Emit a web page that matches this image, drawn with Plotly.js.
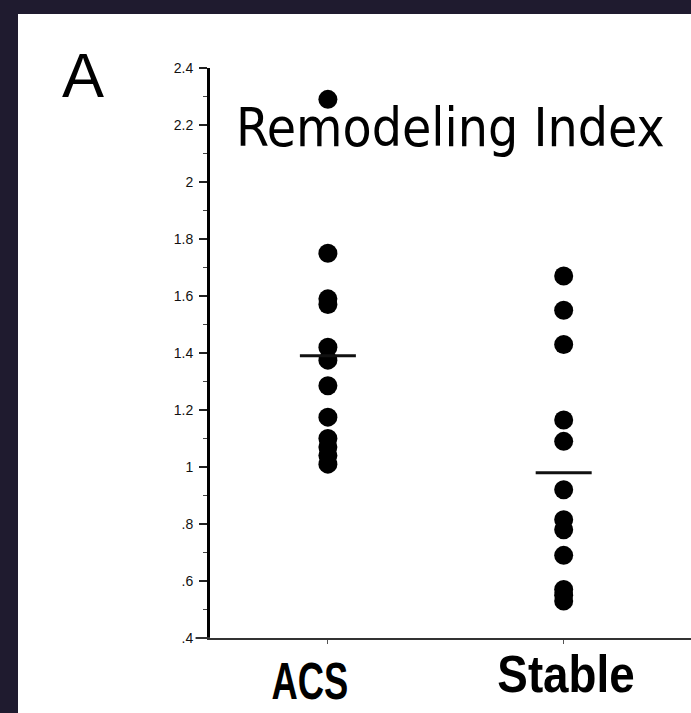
<!DOCTYPE html>
<html>
<head>
<meta charset="utf-8">
<script src="https://cdn.plot.ly/plotly-3.0.1.min.js"></script>
<style>
  html, body { margin: 0; padding: 0; background: #1f1b2f; width: 691px; height: 713px; overflow: hidden; }
  #chart { position: absolute; left: 18px; top: 14px; width: 673px; height: 699px; background: #fff; }
</style>
</head>
<body>
<div id="chart"></div>
<script>
// ---- data ----
const categories = ["ACS", "Stable"];
const acsValues = [2.29, 1.75, 1.59, 1.57, 1.42, 1.375, 1.285, 1.175, 1.10, 1.07, 1.04, 1.01];
const stableValues = [1.67, 1.55, 1.43, 1.165, 1.09, 0.92, 0.815, 0.78, 0.69, 0.57, 0.55, 0.53];
const means = [1.39, 0.98];
const yTickVals = [0.4, 0.6, 0.8, 1.0, 1.2, 1.4, 1.6, 1.8, 2.0, 2.2, 2.4];
const yTickText = [".4", ".6", ".8", "1", "1.2", "1.4", "1.6", "1.8", "2", "2.2", "2.4"];
const chartTitle = "Remodeling Index";
const panelLabel = "A";

const traces = [
  {
    type: "scatter", mode: "markers",
    x: acsValues.map(() => categories[0]), y: acsValues,
    marker: { color: "#000", size: 19 }, hoverinfo: "y", showlegend: false
  },
  {
    type: "scatter", mode: "markers",
    x: stableValues.map(() => categories[1]), y: stableValues,
    marker: { color: "#000", size: 19 }, hoverinfo: "y", showlegend: false
  },
  {
    type: "scatter", mode: "markers",
    x: categories, y: means,
    marker: { symbol: "line-ew", size: 40, color: "#000", line: { color: "#111", width: 3 } },
    hoverinfo: "y", showlegend: false
  }
];

const layout = {
  width: 673, height: 699,
  margin: { l: 192, r: 0, t: 54, b: 75 },
  paper_bgcolor: "#ffffff", plot_bgcolor: "#ffffff",
  showlegend: false,
  xaxis: {
    type: "category", categoryorder: "array", categoryarray: categories,
    range: [-0.5, 1.54],
    showgrid: false, zeroline: false,
    showline: true, linecolor: "#333", linewidth: 2,
    ticks: "outside", ticklen: 4, tickcolor: "#555", tickwidth: 1,
    showticklabels: false, fixedrange: true
  },
  yaxis: {
    range: [0.4, 2.4],
    tickmode: "array", tickvals: yTickVals, ticktext: yTickText,
    showgrid: false, zeroline: false,
    showline: true, linecolor: "#000", linewidth: 3,
    ticks: "outside", ticklen: 8, tickwidth: 1.5, tickcolor: "#222",
    ticklabelstandoff: 3,
    tickfont: { family: "Liberation Sans, Arial, sans-serif", size: 14, color: "#111" },
    minor: { tickmode: "linear", tick0: 0.4, dtick: 0.1, ticks: "outside", ticklen: 4, tickwidth: 1.2, tickcolor: "#444" },
    fixedrange: true
  },
  shapes: [
    { type: "line", xref: "paper", yref: "paper", x0: -0.03, x1: 0, y0: 0, y1: 0, line: { color: "#333", width: 2 } }
  ],
  annotations: [
    { text: chartTitle, xref: "paper", yref: "paper", x: 0.05, y: 0.896, xanchor: "left", yanchor: "middle",
      showarrow: false, font: { family: "DejaVu Sans Condensed, Open Sans, sans-serif", size: 53, color: "#000" } },
    { text: panelLabel, xref: "paper", yref: "paper", x: -0.312, y: 0.987, xanchor: "left", yanchor: "middle",
      showarrow: false, font: { family: "Liberation Sans, Arial, sans-serif", size: 63, color: "#000" } },
    { text: "<b>" + categories[0] + "</b>", xref: "x", yref: "paper", x: categories[0], y: -0.075, xshift: -18,
      xanchor: "center", yanchor: "middle", showarrow: false,
      font: { family: "Liberation Sans, Arial, sans-serif", size: 52, color: "#000" } },
    { text: "<b>" + categories[1] + "</b>", xref: "x", yref: "paper", x: categories[1], y: -0.064, xshift: 2,
      xanchor: "center", yanchor: "middle", showarrow: false,
      font: { family: "Liberation Sans, Arial, sans-serif", size: 52, color: "#000" } }
  ]
};

// horizontal condensing of the two category labels (the original uses a narrow bold face)
const labelCondense = { 2: 0.70, 3: 0.88 };

Plotly.newPlot("chart", traces, layout, { staticPlot: true, displayModeBar: false }).then(() => {
  document.querySelectorAll("#chart .annotation").forEach((g) => {
    const idx = +g.getAttribute("data-index");
    if (!(idx in labelCondense)) return;
    const t = g.querySelector("text.annotation-text");
    if (!t) return;
    const bb = t.getBBox();
    const cx = bb.x + bb.width / 2;
    const s = labelCondense[idx];
    t.setAttribute("transform", `translate(${cx},0) scale(${s},1) translate(${-cx},0)`);
  });
});
</script>
</body>
</html>
